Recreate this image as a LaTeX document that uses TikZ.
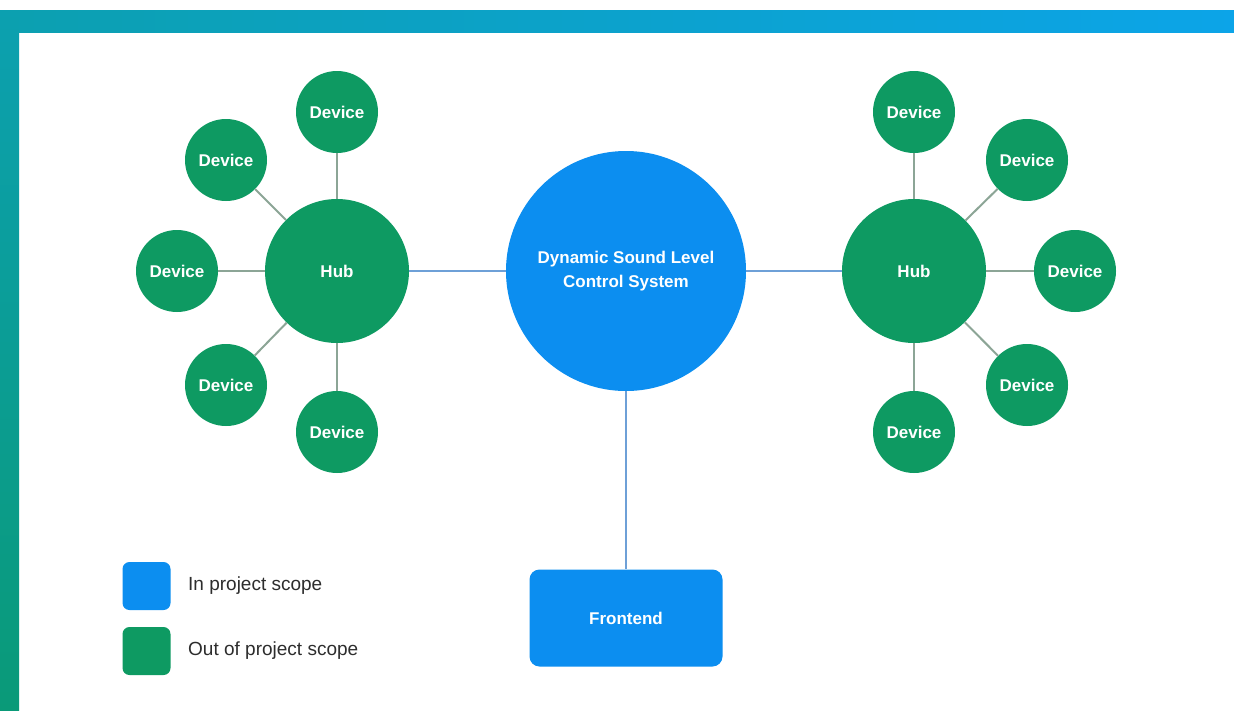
\documentclass[tikz,border=0pt]{standalone}
\usepackage{fontspec}
\setmainfont{Liberation Sans}
\definecolor{blu}{RGB}{12,142,240}
\definecolor{grn}{RGB}{14,154,98}
\definecolor{bline}{RGB}{110,160,215}
\definecolor{gline}{RGB}{140,165,150}
\definecolor{bandA}{RGB}{12,160,176}
\definecolor{bandB}{RGB}{12,164,232}
\definecolor{bandC}{RGB}{10,154,120}
\definecolor{legtext}{RGB}{45,45,45}
\begin{document}
\begin{tikzpicture}[x=1pt,y=-1pt,
  lbl/.style={text=white,font=\fontsize{17}{24}\selectfont\bfseries},
  dev/.style={circle,fill=grn,minimum size=82pt,inner sep=0pt,lbl},
  hub/.style={circle,fill=grn,minimum size=144pt,inner sep=0pt,lbl},
  core/.style={circle,fill=blu,minimum size=240pt,inner sep=0pt,lbl,align=center},
  fend/.style={rectangle,rounded corners=10pt,fill=blu,minimum width=193pt,minimum height=97pt,inner sep=0pt,lbl},
  legbox/.style={rectangle,rounded corners=7pt,minimum size=48pt,inner sep=0pt},
  legtxt/.style={anchor=west,text=legtext,font=\fontsize{19}{22}\selectfont,inner sep=0pt},
  bedge/.style={draw=bline,line width=2pt},
  gedge/.style={draw=gline,line width=2pt}]
\useasboundingbox (0,0) rectangle (1234,710);
\fill[white] (0,0) rectangle (1234,710);
\shade[left color=bandA,right color=bandB] (0,10) rectangle (1234,32);
\shade[top color=bandA,bottom color=bandC] (0,10) rectangle (19,710);

% core
\node[core] (c) at (626,271) {Dynamic Sound Level\\Control System};
\node[fend] (fe) at (626,618) {Frontend};

% hubs
\node[hub] (lh) at (337,271) {Hub};
\node[hub] (rh) at (914,271) {Hub};

% left devices
\node[dev] (l1) at (337,112) {Device};
\node[dev] (l2) at (226,160) {Device};
\node[dev] (l3) at (177,271) {Device};
\node[dev] (l4) at (226,385) {Device};
\node[dev] (l5) at (337,432) {Device};

% right devices
\node[dev] (r1) at (914,112) {Device};
\node[dev] (r2) at (1027,160) {Device};
\node[dev] (r3) at (1075,271) {Device};
\node[dev] (r4) at (1027,385) {Device};
\node[dev] (r5) at (914,432) {Device};

% edges
\draw[bedge] (c) -- (lh);
\draw[bedge] (c) -- (rh);
\draw[bedge] (c) -- (fe);
\foreach \d in {l1,l2,l3,l4,l5} \draw[gedge] (lh) -- (\d);
\foreach \d in {r1,r2,r3,r4,r5} \draw[gedge] (rh) -- (\d);

% legend
\node[legbox,fill=blu] (lb) at (146.5,586) {};
\node[legbox,fill=grn] (lg) at (146.5,651) {};
\node[legtxt] (lbt) at (188,586) {In project scope};
\node[legtxt] (lgt) at (188,651) {Out of project scope};
\end{tikzpicture}
\end{document}
